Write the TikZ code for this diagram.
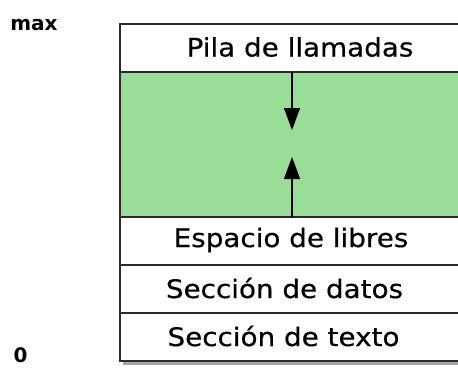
\documentclass[tikz,border=0pt]{standalone}
\usepackage{fontspec}
\setmainfont{DejaVu Sans}
\newfontfamily\cajafont[FakeStretch=1.09,FakeBold=0.5]{DejaVu Sans}
\usetikzlibrary{positioning,arrows.meta}
\definecolor{verdezona}{HTML}{99DD99}
\definecolor{bordegris}{HTML}{2B2B2B}

\begin{document}
\begin{tikzpicture}[x=1pt,y=-1pt,
    fila/.style={draw=bordegris,line width=1.6pt,fill=white,minimum width=344pt,
      minimum height=48pt,inner sep=0pt,outer sep=0pt},
    rotulo/.style={inner sep=0pt,font=\cajafont\fontsize{25.5}{30}\selectfont},
    extremo/.style={font=\bfseries\fontsize{20}{24}\selectfont},
    flecha/.style={line width=1.3pt,-{Triangle[length=22pt,width=16pt]}}]
    \useasboundingbox (0,0) rectangle (458,367);
    %% sombra
    \fill[black!35] (123,27) rectangle (467,364.5);
    %% filas
    \node[fila,anchor=north west] (pila) at (120,24) {};
    \node[fila,fill=verdezona,minimum height=145pt,below=0pt of pila] (libre) {};
    \node[fila,below=0pt of libre] (espacio) {};
    \node[fila,below=0pt of espacio] (datos) {};
    \node[fila,below=0pt of datos] (texto) {};
    %% rotulos
    \node[rotulo] (tpila) at ([xshift=8pt,yshift=1pt]pila.center) {Pila de llamadas};
    \node[rotulo] (tespacio) at ([xshift=-1pt,yshift=1pt]espacio.center) {Espacio de libres};
    \node[rotulo] (tdatos) at ([xshift=-7.5pt,yshift=1pt]datos.center) {Secci\'on de datos};
    \node[rotulo] (ttexto) at ([xshift=-8.5pt,yshift=1pt]texto.center) {Secci\'on de texto};
    %% flechas
    \coordinate (abajo) at (292,130);
    \coordinate (arriba) at (292,157);
    \draw[flecha] (pila.south) -- (abajo);
    \draw[flecha] (espacio.north) -- (arriba);
    %%
    \node[extremo] (max) at (34,25) {max};
    \node[extremo] (cero) at (20.5,355.5) {0};
\end{tikzpicture}
\end{document}
